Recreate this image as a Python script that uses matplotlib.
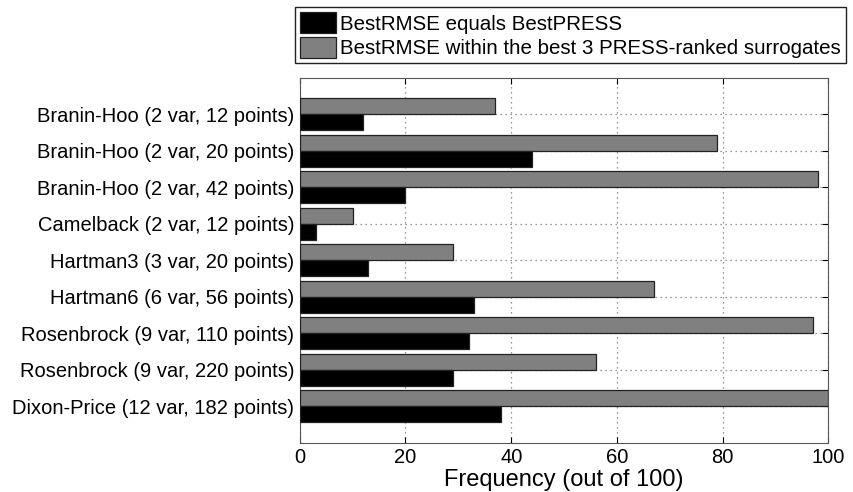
import matplotlib.pyplot as plt
import numpy as np

plt.rcParams['font.family'] = ['Liberation Sans', 'DejaVu Sans']

problems = [
    "Branin-Hoo (2 var, 12 points)",
    "Branin-Hoo (2 var, 20 points)",
    "Branin-Hoo (2 var, 42 points)",
    "Camelback (2 var, 12 points)",
    "Hartman3 (3 var, 20 points)",
    "Hartman6 (6 var, 56 points)",
    "Rosenbrock (9 var, 110 points)",
    "Rosenbrock (9 var, 220 points)",
    "Dixon-Price (12 var, 182 points)",
]
equals_best = [12, 44, 20, 3, 13, 33, 32, 29, 38]
within_best3 = [37, 79, 98, 10, 29, 67, 97, 56, 100]
xticks = [0, 20, 40, 60, 80, 100]

fig = plt.figure(figsize=(8.54, 4.92), dpi=100)
ax = fig.add_axes([0.351, 0.100, 0.619, 0.742])

y = np.arange(1, len(problems) + 1)
h = 0.44
ax.barh(y - h / 2, within_best3, height=h, color="#808080", edgecolor="#222222",
        linewidth=0.9, label="BestRMSE within the best 3 PRESS-ranked surrogates", zorder=3)
ax.barh(y + h / 2, equals_best, height=h, color="black", edgecolor="#222222",
        linewidth=0.9, label="BestRMSE equals BestPRESS", zorder=3)

ax.set_xlim(0, 100)
ax.set_ylim(len(problems) + 1, 0)
ax.set_yticks(y)
ax.set_yticklabels(problems, fontsize=14.5)
ax.set_xticks(xticks)
ax.set_xticklabels([str(t) for t in xticks], fontsize=14.5)
ax.tick_params(direction="in", top=True, right=True, length=4, pad=4)
ax.tick_params(axis="x", pad=4)
ax.grid(True, linestyle=(0, (1, 3)), color="#777777", linewidth=0.9, zorder=0)
ax.set_xlabel("Frequency (out of 100)", fontsize=17, labelpad=1)
for s in ax.spines.values():
    s.set_color("#555555")

handles, labels = ax.get_legend_handles_labels()
leg = fig.legend(handles[::-1], labels[::-1], loc="upper right",
                 bbox_to_anchor=(846 / 854, 1 - 7 / 492), fontsize=14.8,
                 fancybox=False, framealpha=1, edgecolor="#222222",
                 handlelength=1.75, handleheight=1.2, handletextpad=0.2,
                 borderpad=0.25, labelspacing=0.15, borderaxespad=0)

fig.savefig("out.png", dpi=100)
